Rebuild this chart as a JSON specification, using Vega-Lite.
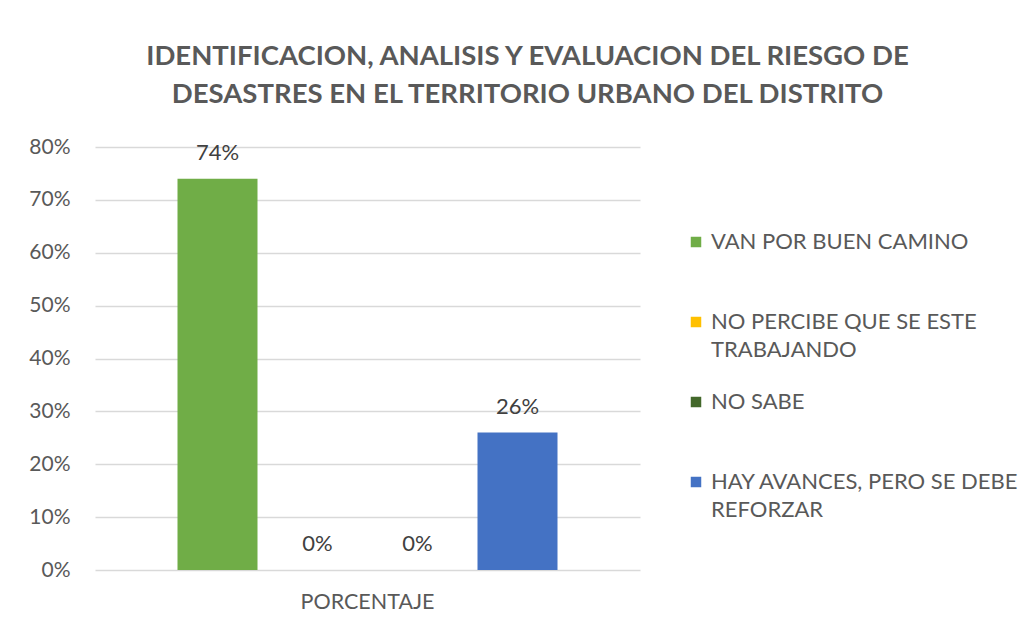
{
  "$schema": "https://vega.github.io/schema/vega-lite/v6.json",
  "autosize": "none",
  "width": 545,
  "height": 423,
  "padding": {"left": 95, "top": 147, "right": 394, "bottom": 61},
  "background": "white",
  "config": {
    "view": {"stroke": null},
    "style": {"guide-label": {"lineHeight": 28}}
  },
  "title": {
    "text": ["IDENTIFICACION, ANALISIS Y EVALUACION DEL RIESGO DE", "DESASTRES EN EL TERRITORIO URBANO DEL DISTRITO"],
    "font": "Lato",
    "fontSize": 27.5,
    "fontWeight": "bold",
    "color": "#595959",
    "lineHeight": 38,
    "anchor": "middle",
    "dx": 160,
    "offset": 28
  },
  "data": {
    "values": [
      {"grupo": "PORCENTAJE", "respuesta": "VAN POR BUEN CAMINO", "valor": 0.74},
      {"grupo": "PORCENTAJE", "respuesta": "NO PERCIBE QUE SE ESTE TRABAJANDO", "valor": 0.0},
      {"grupo": "PORCENTAJE", "respuesta": "NO SABE", "valor": 0.0},
      {"grupo": "PORCENTAJE", "respuesta": "HAY AVANCES, PERO SE DEBE REFORZAR", "valor": 0.26}
    ]
  },
  "encoding": {
    "x": {
      "field": "grupo", "type": "nominal", "title": null,
      "scale": {"paddingInner": 0, "paddingOuter": 0.18125},
      "axis": {"labelAngle": 0, "domain": false, "ticks": false, "labelPadding": 21, "labelFont": "Lato", "labelFontSize": 21.5, "labelColor": "#595959"}
    },
    "xOffset": {
      "field": "respuesta", "type": "nominal",
      "sort": ["VAN POR BUEN CAMINO", "NO PERCIBE QUE SE ESTE TRABAJANDO", "NO SABE", "HAY AVANCES, PERO SE DEBE REFORZAR"],
      "scale": {"paddingInner": 0.2, "paddingOuter": 0.1}
    },
    "y": {
      "field": "valor", "type": "quantitative", "title": null,
      "scale": {"domain": [0, 0.8]},
      "axis": {"format": ".0%", "values": [0, 0.1, 0.2, 0.3, 0.4, 0.5, 0.6, 0.7, 0.8], "labelOverlap": false, "domain": false, "ticks": false, "labelPadding": 25, "gridColor": "#d9d9d9", "gridWidth": 1.5, "labelFont": "Lato", "labelFontSize": 21, "labelColor": "#595959"}
    }
  },
  "layer": [
    {
      "mark": {"type": "bar"},
      "encoding": {
        "color": {
          "field": "respuesta", "type": "nominal", "title": null,
          "scale": {
            "domain": ["VAN POR BUEN CAMINO", "NO PERCIBE QUE SE ESTE TRABAJANDO", "NO SABE", "HAY AVANCES, PERO SE DEBE REFORZAR"],
            "range": ["#70AD47", "#FFC000", "#43682B", "#4472C4"]
          },
          "legend": {
            "orient": "none",
            "legendX": 590,
            "legendY": 84,
            "symbolType": "square",
            "symbolSize": 110,
            "symbolStrokeWidth": 0,
            "labelFont": "Lato",
            "labelFontSize": 22,
            "labelColor": "#595959",
            "labelLimit": 400,
            "labelOffset": 4,
            "rowPadding": 30,
            "labelExpr": "datum.label == 'NO PERCIBE QUE SE ESTE TRABAJANDO' ? ['NO PERCIBE QUE SE ESTE', 'TRABAJANDO'] : datum.label == 'HAY AVANCES, PERO SE DEBE REFORZAR' ? ['HAY AVANCES, PERO SE DEBE', 'REFORZAR'] : [datum.label, ' ']"
          }
        }
      }
    },
    {
      "mark": {"type": "text", "baseline": "bottom", "dy": -14, "font": "Lato", "fontSize": 22, "color": "#404040"},
      "encoding": {
        "text": {"field": "valor", "type": "quantitative", "format": ".0%"}
      }
    }
  ]
}
